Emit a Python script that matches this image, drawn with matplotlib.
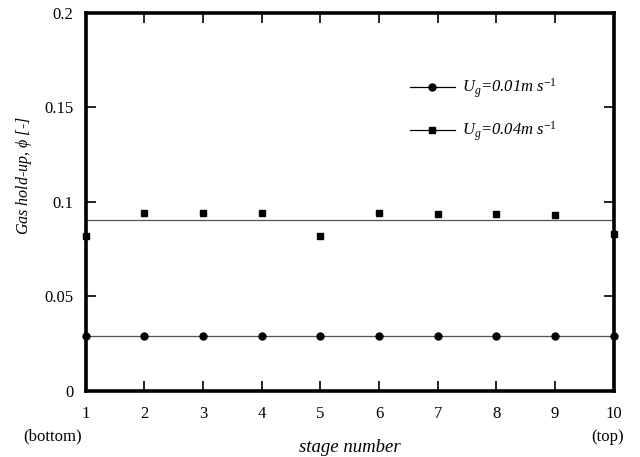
"""
Gas hold-up per stage for two superficial gas velocities.
"""

import numpy as np
import matplotlib
matplotlib.use("Agg")
import matplotlib.pyplot as plt
import matplotlib.transforms as mtransforms

plt.rcParams['font.family'] = ['Liberation Serif', 'DejaVu Serif']
plt.rcParams['mathtext.fontset'] = 'custom'
plt.rcParams['mathtext.rm'] = 'Liberation Serif'
plt.rcParams['mathtext.it'] = 'Liberation Serif:italic'

# data
stages = [1, 2, 3, 4, 5, 6, 7, 8, 9, 10]
holdup_low = [0.029, 0.029, 0.029, 0.029, 0.029, 0.029, 0.029, 0.029, 0.029, 0.029]
holdup_high = [0.082, 0.094, 0.094, 0.094, 0.082, 0.094, 0.0935, 0.0935, 0.093, 0.083]
label_low = r'$U_g$=0.01m s$^{-1}$'
label_high = r'$U_g$=0.04m s$^{-1}$'
y_ticks = [0, 0.05, 0.1, 0.15, 0.2]
y_tick_labels = ['0', '0.05', '0.1', '0.15', '0.2']

fig = plt.figure(figsize=(6.4, 4.57), dpi=100)
ax = fig.add_axes([0.134, 0.145, 0.825, 0.827])

x = np.array(stages)
line_color = '#555555'

# average lines across the column
ax.plot(x, np.full(len(x), np.mean(holdup_low)), color=line_color, linewidth=0.9)
ax.plot(x, np.full(len(x), np.mean(holdup_high)), color=line_color, linewidth=0.9)

ax.plot(x, holdup_low, linestyle='none', marker='o', markersize=5, color='black', clip_on=False)
ax.plot(x, holdup_high, linestyle='none', marker='s', markersize=5, color='black', clip_on=False)

# legend handles: line with marker
h1, = ax.plot([], [], color='black', linewidth=0.9, marker='o', markersize=5)
h2, = ax.plot([], [], color='black', linewidth=0.9, marker='s', markersize=5)
leg = ax.legend([h1, h2], [label_low, label_high], loc='upper left',
                bbox_to_anchor=(0.585, 0.87), frameon=False, handlelength=2.7,
                labelspacing=1.15, handletextpad=0.45,
                prop={'family': 'Liberation Serif', 'style': 'italic', 'size': 12})

ax.set_xlim(1, 10)
ax.set_ylim(0, 0.2)
ax.set_xticks(stages)
ax.set_xticklabels([str(s) for s in stages])
ax.set_yticks(y_ticks)
ax.set_yticklabels(y_tick_labels)

for side in ['left', 'right', 'top', 'bottom']:
    ax.spines[side].set_linewidth(2.6)

ax.tick_params(direction='in', length=7, width=1.2, labelsize=12,
               top=True, right=True, pad=9)
ax.tick_params(axis='x', pad=11)

trans = mtransforms.blended_transform_factory(ax.transData, ax.transAxes)
ax.annotate('(bottom)', xy=(1, 0), xycoords=trans, xytext=(-4, -38),
            textcoords='offset pixels', ha='right', va='top', fontsize=12)
ax.annotate('(top)', xy=(10, 0), xycoords=trans, xytext=(10, -38),
            textcoords='offset pixels', ha='right', va='top', fontsize=12)

ax.set_xlabel('stage number', fontsize=13.5, fontstyle='italic', labelpad=12)
ax.set_ylabel(r'Gas hold-up, $\phi$ [-]', fontsize=11.5, fontstyle='italic')
ax.yaxis.set_label_coords(-0.098, 0.569)

fig.savefig('out.png', dpi=100)
